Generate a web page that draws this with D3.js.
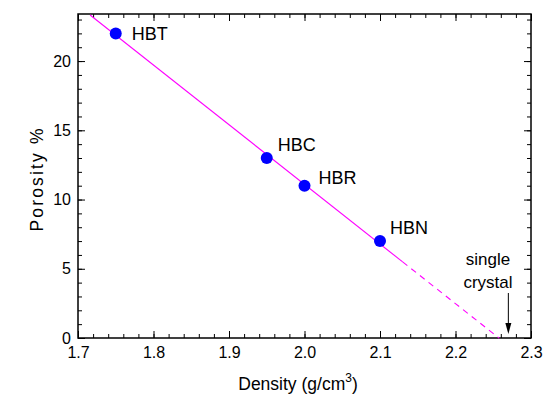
<!DOCTYPE html>
<html><head><meta charset="utf-8">
<script src="https://cdn.jsdelivr.net/npm/d3@7"></script>
<style>
body{margin:0;background:#fff;}
svg text{font-family:"Liberation Sans",Arial,Helvetica,sans-serif;}
</style></head>
<body><svg id="c" width="556" height="404"></svg>
<script>
const samples = ["HBT","HBC","HBR","HBN"];
const density = [1.75, 1.95, 2.00, 2.10];
const porosity = [22, 13, 11, 7];
const labelDx = [16, 11, 14, 10];
const labelDy = [0, -13, -8, -13];
const fitSolidX = [1.716, 2.13];
const fitDashX = [2.13, 2.258];
const crystalDensity = 2.27;
const xTicks = [1.7,1.8,1.9,2.0,2.1,2.2,2.3];
const yTicks = [0,5,10,15,20];

// linear fit of the data
const mx = d3.mean(density), my = d3.mean(porosity);
const slope = d3.sum(density.map((d,i)=>(d-mx)*(porosity[i]-my))) / d3.sum(density.map(d=>(d-mx)*(d-mx)));
const fit = x => my + slope*(x-mx);

const L=78, R=531, T=14, B=338;
const svg = d3.select("#c");
const x = d3.scaleLinear().domain([1.7,2.3]).range([L,R]);
const y = d3.scaleLinear().domain([0,23.4]).range([B,T]);

const minorX = d3.range(1.7,2.3001,0.02).map(v=>+v.toFixed(2));
const minorY = d3.range(0,23.5,1);

function styleAxis(g){
  g.select(".domain").remove();
  g.selectAll("line").attr("stroke","#000").attr("stroke-width",1);
  g.selectAll("text").attr("font-size",16).attr("fill","#000");
}
// bottom
svg.append("g").attr("transform",`translate(0,${B})`)
  .call(d3.axisBottom(x).tickValues(minorX).tickFormat("").tickSize(-4)).call(styleAxis);
svg.append("g").attr("transform",`translate(0,${B})`)
  .call(d3.axisBottom(x).tickValues(xTicks).tickFormat(d3.format(".1f")).tickSize(-7).tickPadding(9)).call(styleAxis);
// top
svg.append("g").attr("transform",`translate(0,${T})`)
  .call(d3.axisTop(x).tickValues(minorX).tickFormat("").tickSize(-4)).call(styleAxis);
svg.append("g").attr("transform",`translate(0,${T})`)
  .call(d3.axisTop(x).tickValues(xTicks).tickFormat("").tickSize(-7)).call(styleAxis);
// left
svg.append("g").attr("transform",`translate(${L},0)`)
  .call(d3.axisLeft(y).tickValues(minorY).tickFormat("").tickSize(-4)).call(styleAxis);
svg.append("g").attr("transform",`translate(${L},0)`)
  .call(d3.axisLeft(y).tickValues(yTicks).tickFormat(d3.format("d")).tickSize(-7).tickPadding(7)).call(styleAxis);
// right
svg.append("g").attr("transform",`translate(${R},0)`)
  .call(d3.axisRight(y).tickValues(minorY).tickFormat("").tickSize(-4)).call(styleAxis);
svg.append("g").attr("transform",`translate(${R},0)`)
  .call(d3.axisRight(y).tickValues(yTicks).tickFormat("").tickSize(-7)).call(styleAxis);

// frame
svg.append("rect").attr("x",L).attr("y",T).attr("width",R-L).attr("height",B-T)
  .attr("fill","none").attr("stroke","#000").attr("stroke-width",1.5);

// fit lines
const line = d3.line().x(d=>x(d)).y(d=>y(fit(d)));
svg.append("path").attr("d",line(fitSolidX)).attr("stroke","#ff00ff").attr("stroke-width",1.1).attr("fill","none");
svg.append("path").attr("d",line(fitDashX)).attr("stroke","#ff00ff").attr("stroke-width",1.1)
  .attr("stroke-dasharray","6,5").attr("fill","none");

// points
svg.selectAll("circle.pt").data(density).enter().append("circle")
  .attr("cx",d=>x(d)).attr("cy",(d,i)=>y(porosity[i])).attr("r",6).attr("fill","#0000ff");
svg.selectAll("text.lab").data(samples).enter().append("text")
  .attr("x",(d,i)=>x(density[i])+labelDx[i]).attr("y",(d,i)=>y(porosity[i])+labelDy[i])
  .attr("dy","0.35em").attr("font-size",18).attr("fill","#000").text(d=>d);

// single crystal annotation
const ax = x(crystalDensity);
svg.append("line").attr("x1",ax).attr("x2",ax).attr("y1",293).attr("y2",326).attr("stroke","#000").attr("stroke-width",1);
svg.append("path").attr("d",`M${ax-3},${323}L${ax+3},${323}L${ax},${334}Z`).attr("fill","#000");
svg.append("text").attr("x",488).attr("y",259).attr("dy","0.35em").attr("text-anchor","middle").attr("font-size",17).text("single");
svg.append("text").attr("x",488).attr("y",282).attr("dy","0.35em").attr("text-anchor","middle").attr("font-size",17).text("crystal");

// axis titles
const xt = svg.append("text").attr("x",298).attr("y",390).attr("text-anchor","middle").attr("font-size",17.5);
xt.append("tspan").text("Density (g/cm");
xt.append("tspan").attr("font-size",12).attr("dy",-8).text("3");
xt.append("tspan").attr("dy",8).text(")");
svg.append("text").attr("transform","translate(43,180) rotate(-90)").attr("text-anchor","middle")
  .attr("font-size",17.5).attr("textLength",103).attr("lengthAdjust","spacing").text("Porosity %");
</script></body></html>
